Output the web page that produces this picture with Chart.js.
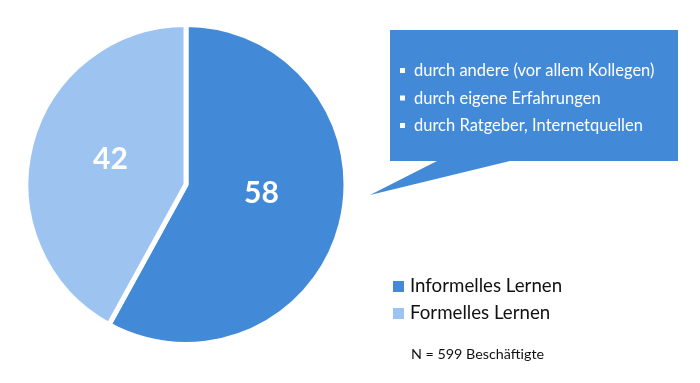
<!DOCTYPE html>
<html><head><meta charset="utf-8">
<script src="https://cdn.jsdelivr.net/npm/chart.js@4"></script>
<style>html,body{margin:0;padding:0;background:#fff}#c{display:block}</style>
</head><body>
<div style="width:700px;height:383px"><canvas id="c" width="700" height="383"></canvas></div>
<script>
const categories = ["Informelles Lernen", "Formelles Lernen"];
const values = [58, 42];
const colors = ["#428ad8", "#9dc3f1"];
const bubbleItems = ["durch andere (vor allem Kollegen)", "durch eigene Erfahrungen", "durch Ratgeber, Internetquellen"];
const note = "N = 599 Beschäftigte";
const FONT = "Lato, 'Open Sans', sans-serif";

const overlay = {
  id: 'overlay',
  afterDraw(chart) {
    const ctx = chart.ctx;
    ctx.save();
    // speech bubble
    ctx.fillStyle = "#428ad8";
    ctx.beginPath();
    ctx.moveTo(390, 30); ctx.lineTo(678, 30); ctx.lineTo(678, 161);
    ctx.lineTo(510, 161); ctx.lineTo(370, 195); ctx.lineTo(437, 161);
    ctx.lineTo(390, 161); ctx.closePath(); ctx.fill();
    ctx.fillStyle = "#ffffff";
    ctx.font = "16.5px " + FONT;
    ctx.textBaseline = "middle";
    bubbleItems.forEach((t, i) => {
      const y = 71 + i * 27.5;
      ctx.fillRect(400, y - 3, 5, 5);
      ctx.fillText(t, 414, y);
    });
    // slice labels
    const meta = chart.getDatasetMeta(0);
    const nudges = [[-2, -11], [2, -5]];
    ctx.font = "bold 30px " + FONT;
    ctx.textAlign = "center";
    meta.data.forEach((arc, i) => {
      const p = arc.tooltipPosition();
      ctx.fillText(String(values[i]), p.x + nudges[i][0], p.y + nudges[i][1]);
    });
    // legend
    ctx.textAlign = "left";
    ctx.font = "18.7px " + FONT;
    categories.forEach((c, i) => {
      const y = 286 + i * 27;
      ctx.fillStyle = colors[i];
      ctx.fillRect(393, y - 5, 11, 11);
      ctx.fillStyle = "#111";
      ctx.fillText(c, 410, y);
    });
    ctx.font = "14.3px " + FONT;
    ctx.fillText(note, 411, 354);
    ctx.restore();
  }
};

new Chart(document.getElementById('c'), {
  type: 'pie',
  data: { labels: categories, datasets: [{ data: values, backgroundColor: colors, borderColor: "#ffffff", borderWidth: 5, hoverOffset: 0 }] },
  options: {
    responsive: false, animation: false,
    layout: { padding: { left: 23, top: 22, right: 351, bottom: 36 } },
    plugins: { legend: { display: false }, tooltip: { enabled: false } }
  },
  plugins: [overlay]
});
</script>
</body></html>
